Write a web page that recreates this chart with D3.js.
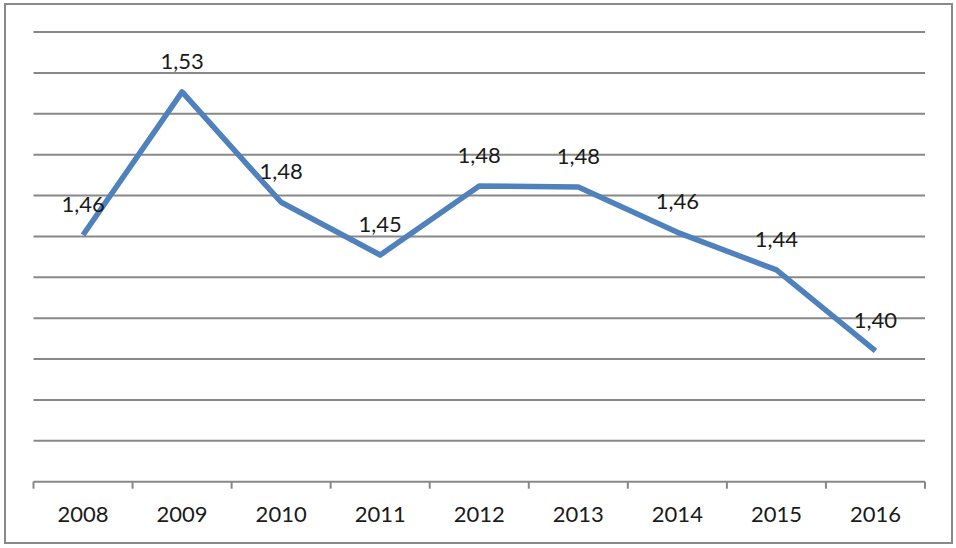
<!DOCTYPE html>
<html>
<head>
<meta charset="utf-8">
<script src="https://cdn.jsdelivr.net/npm/d3@7"></script>
<style>
  html, body { margin: 0; padding: 0; background: #fff; }
  svg text { font-family: Lato, "Open Sans", sans-serif; fill: #1a1a1a; }
</style>
</head>
<body>
<div id="chart"></div>
<script>
// Данные
const years = ["2008", "2009", "2010", "2011", "2012", "2013", "2014", "2015", "2016"];
const values = [1.4607, 1.5307, 1.4767, 1.4509, 1.4847, 1.4842, 1.462, 1.4436, 1.404];
const yDomain = [1.34, 1.56];
const gridStep = 0.02;

const width = 956, height = 548;
const plot = { left: 33.5, right: 925, top: 32, bottom: 481.7 };

const svg = d3.select("#chart")
    .append("svg")
    .attr("width", width)
    .attr("height", height);

// Рамка
svg.append("rect")
    .attr("x", 5)
    .attr("y", 4)
    .attr("width", 947)
    .attr("height", 539)
    .attr("fill", "#fff")
    .attr("stroke", "#8a8a8a")
    .attr("stroke-width", 2);

const x = d3.scaleBand()
    .domain(years)
    .range([plot.left, plot.right])
    .padding(0);

const y = d3.scaleLinear()
    .domain(yDomain)
    .range([plot.bottom, plot.top]);

// Сетка
const gridValues = d3.range(yDomain[0] + gridStep, yDomain[1] + gridStep / 2, gridStep);
svg.append("g")
    .selectAll("line")
    .data(gridValues)
    .join("line")
    .attr("x1", plot.left)
    .attr("x2", plot.right)
    .attr("y1", d => y(d))
    .attr("y2", d => y(d))
    .attr("stroke", "#888")
    .attr("stroke-width", 2);

// Ось X
const xAxis = svg.append("g")
    .attr("transform", `translate(0,${plot.bottom})`)
    .call(d3.axisBottom(x).tickSize(0).tickPadding(33));
xAxis.select(".domain").remove();
xAxis.selectAll("text")
    .style("font-size", "22px")
    .attr("dy", "0.35em")
    .attr("fill", "#1a1a1a");

svg.append("line")
    .attr("x1", plot.left)
    .attr("x2", plot.right)
    .attr("y1", plot.bottom)
    .attr("y2", plot.bottom)
    .attr("stroke", "#888")
    .attr("stroke-width", 2);

// Деления между категориями
const edges = years.map(d => x(d)).concat([x.range()[1]]);
svg.append("g")
    .selectAll("line")
    .data(edges)
    .join("line")
    .attr("x1", d => d)
    .attr("x2", d => d)
    .attr("y1", plot.bottom)
    .attr("y2", plot.bottom + 7)
    .attr("stroke", "#888")
    .attr("stroke-width", 2);

const data = years.map((yr, i) => ({ year: yr, value: values[i] }));
const cx = d => x(d.year) + x.bandwidth() / 2;

const line = d3.line()
    .x(cx)
    .y(d => y(d.value));

svg.append("path")
    .datum(data)
    .attr("d", line)
    .attr("fill", "none")
    .attr("stroke", "#4f81bd")
    .attr("stroke-width", 5.5)
    .attr("stroke-linejoin", "round");

// Подписи значений
svg.append("g")
    .selectAll("text")
    .data(data)
    .join("text")
    .attr("x", cx)
    .attr("y", d => y(d.value) - 31)
    .attr("dy", "0.35em")
    .attr("text-anchor", "middle")
    .style("font-size", "22px")
    .text(d => d.value.toFixed(2).replace(".", ","));
</script>
</body>
</html>
